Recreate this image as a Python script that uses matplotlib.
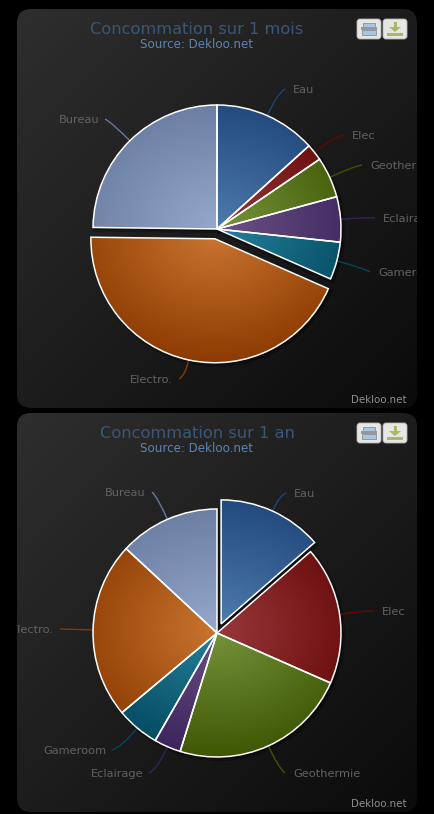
import numpy as np
import matplotlib
matplotlib.use("Agg")
import matplotlib.pyplot as plt
from matplotlib.patches import FancyBboxPatch, PathPatch, Rectangle, Polygon, Shadow
from matplotlib.path import Path
from matplotlib.colors import to_rgb
from matplotlib.transforms import Bbox, TransformedBbox

# =========================
# 1. DATA
# =========================
names = ["Eau", "Elec", "Geothermie", "Eclairage", "Gameroom", "Electro.", "Bureau"]
month_values = [13.3, 2.2, 5.3, 5.9, 4.9, 43.6, 24.8]
year_values = [13.6, 18.0, 23.2, 3.5, 5.6, 23.0, 13.1]
month_title = "Concommation sur 1 mois"
year_title = "Concommation sur 1 an"
subtitle = "Source: Dekloo.net"
credit = "Dekloo.net"

# couleur centre / couleur bord
light = ["#4d79ab", "#98383b", "#77953d", "#6b5287", "#28829c", "#ca7530", "#95a8cb"]
dark = ["#1d4478", "#640606", "#3c5400", "#39215a", "#00475e", "#8a3800", "#66799e"]

W, H = 434, 814


def Y(y):
    return H - y


# =========================
# 2. FIGURE
# =========================
fig = plt.figure(figsize=(W / 100, H / 100), dpi=100, facecolor="black")
ax = fig.add_axes([0, 0, 1, 1])


def radial_fill(wedge, c0, c1, cx, cy):
    xs = np.linspace(cx - 160, cx + 160, 320)
    ys = np.linspace(cy - 160, cy + 160, 320)
    xx, yy = np.meshgrid(xs, ys)
    t = np.clip(np.hypot((xx - cx) / 165, (yy - cy) / 135), 0, 1)[..., None]
    img = np.array(to_rgb(c0)) * (1 - t) + np.array(to_rgb(c1)) * t
    im = ax.imshow(img, extent=(xs[0], xs[-1], ys[0], ys[-1]), origin="lower",
                   aspect="auto", zorder=2, interpolation="bilinear")
    im.set_clip_path(wedge)


def draw_button(x, y, kind):
    ax.add_patch(FancyBboxPatch((x + 3, Y(y + 20) + 3), 18, 14, boxstyle="round,pad=3,rounding_size=3",
                                fc="#e6e6e2", ec="#b5b5b5", lw=0.6, zorder=3))
    if kind == "print":
        ax.add_patch(Rectangle((x + 6, Y(y + 8)), 12, 4, fc="#a9c6e0", ec="#8f9aa3", lw=0.7, zorder=4))
        ax.add_patch(Rectangle((x + 4, Y(y + 11)), 16, 3, fc="#8f9aa3", lw=0, zorder=4))
        ax.add_patch(Rectangle((x + 5, Y(y + 16)), 14, 5, fc="#a9c6e0", ec="#8f9aa3", lw=0.7, zorder=4))
    else:
        ax.add_patch(Rectangle((x + 10.5, Y(y + 9)), 3, 6, fc="#a8b868", lw=0, zorder=4))
        ax.add_patch(Polygon([(x + 6, Y(y + 8)), (x + 18, Y(y + 8)), (x + 12, Y(y + 13))],
                             fc="#a8b868", lw=0, zorder=4))
        ax.add_patch(Rectangle((x + 4, Y(y + 17)), 16, 3, fc="#a8b868", lw=0, zorder=4))


def draw_chart(top, bottom, values, title, center, explode, label_pos):
    # fond du panneau
    panel = FancyBboxPatch((31, Y(bottom) + 14), 372, bottom - top - 28,
                           boxstyle="round,pad=14,rounding_size=14", fc="none", ec="none", zorder=1)
    ax.add_patch(panel)
    u = np.linspace(0, 1, 200)
    uu, vv = np.meshgrid(u, u)
    g = ((uu + vv) / 2)[..., None]
    bg = np.array(to_rgb("#2e2e2e")) * (1 - g) + np.array(to_rgb("#0b0b0b")) * g
    im = ax.imshow(bg, extent=(17, 417, Y(bottom), Y(top)), origin="upper", aspect="auto", zorder=1)
    im.set_clip_path(panel)

    # camembert
    wedges, _ = ax.pie(values, startangle=90, counterclock=False, center=(center[0], Y(center[1])),
                       radius=124, explode=explode, colors=light,
                       wedgeprops=dict(edgecolor="white", linewidth=1.1, zorder=3))
    for i, w in enumerate(wedges):
        ax.add_patch(Shadow(w, 1.5, -1.5, fc="black", ec="black", lw=3, alpha=0.25, zorder=1.8))
        radial_fill(w, light[i], dark[i], w.center[0], w.center[1] + 5)
        w.set_facecolor("none")

        # connecteur + etiquette
        mid = np.deg2rad((w.theta1 + w.theta2) / 2)
        d = np.array([np.cos(mid), np.sin(mid)])
        start = np.array(w.center) + w.r * d
        tx, ty, ha = label_pos[i]
        off = 8 if ha == "left" else -6
        end = np.array([tx - off, Y(ty) + 1])
        ctrl = start + d * np.linalg.norm(end - start) * 0.75
        ax.add_patch(PathPatch(Path([start, ctrl, end], [Path.MOVETO, Path.CURVE3, Path.CURVE3]),
                               fc="none", ec=dark[i], lw=1, zorder=2.5))
        # les etiquettes sont coupees au bord du panneau
        t = ax.text(tx, Y(ty), names[i], ha=ha, va="center", fontsize=8.2, color="#626262", zorder=4)
        t.set_clip_on(True)
        t.set_clip_box(TransformedBbox(Bbox([[17, 0], [417, H]]), ax.transData))

    # textes
    ax.text(197, Y(top + 20), title, ha="center", va="center", fontsize=11.7, color="#3a5777", zorder=4)
    ax.text(197, Y(top + 35), subtitle, ha="center", va="center", fontsize=8.6, color="#5d84b0", zorder=4)
    ax.text(407, Y(bottom - 8), credit, ha="right", va="center", fontsize=7.4, color="#8e8e8e", zorder=4)

    draw_button(357, top + 10, "print")
    draw_button(383, top + 10, "save")


# =========================
# 3. LES DEUX GRAPHIQUES
# =========================
month_labels = [(293, 90, "left"), (352, 136, "left"), (370, 166, "left"), (383, 219, "left"),
                (378, 273, "left"), (173, 380, "right"), (99, 120, "right")]
year_labels = [(294, 494, "left"), (382, 612, "left"), (293, 774, "left"), (143, 774, "right"),
               (106, 751, "right"), (54, 630, "right"), (146, 493, "right")]

draw_chart(9, 408, month_values, month_title, (217, 229), [0, 0, 0, 0, 0, 10, 0], month_labels)
draw_chart(413, 812, year_values, year_title, (217, 633), [10, 0, 0, 0, 0, 0, 0], year_labels)

ax.set_xlim(0, W)
ax.set_ylim(0, H)
ax.set_aspect("auto")
ax.axis("off")

# =========================
# 4. SAVE
# =========================
fig.savefig("out.png", dpi=100, facecolor="black")
